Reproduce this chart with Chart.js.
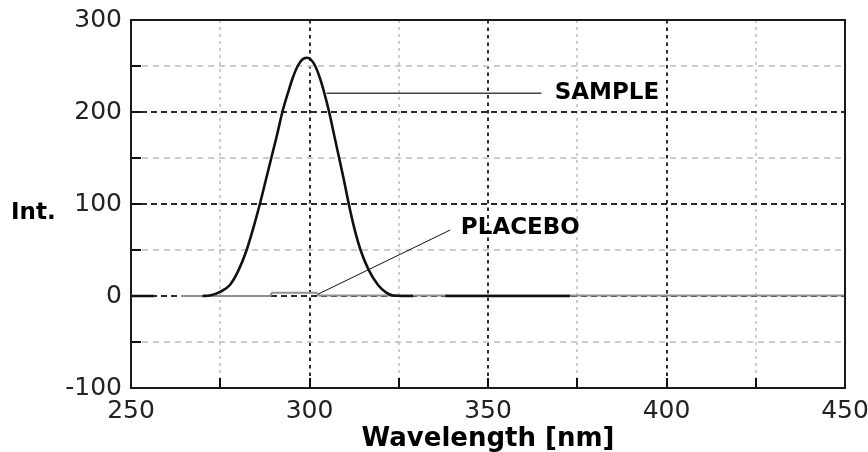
<!DOCTYPE html>
<html>
<head>
<meta charset="utf-8">
<script src="https://cdn.jsdelivr.net/npm/chart.js@4/dist/chart.umd.min.js"></script>
<style>
  html, body { margin: 0; padding: 0; background: #ffffff; }
  #wrap { width: 868px; height: 452px; }
</style>
</head>
<body>
<div id="wrap"><canvas id="c" width="868" height="452"></canvas></div>
<script>
// ---- data ----
const sampleWavelengths = [250, 256.5, 264, 270, 272, 275, 277.7, 280, 282.4, 284.2, 286.1, 287.7, 289.3, 290.9, 292.4, 293.9, 295.3, 296.7, 298, 299.2, 300.4, 301.6, 302.9, 304.2, 305.5, 306.9, 308.3, 309.7, 311, 312.6, 314.3, 316.5, 319.2, 321.4, 323.4, 326, 329, 333, 338, 373];
const sampleValues      = [0,   0,     null, 0,   0.5, 4.5, 12,    27,  50,    73,    100,   125,   150,   175,   200,   220,   237,   250,   257, 259,   257,   250,   237,   220,   200,   175,   150,   125,   100, 73,    50,    29,    12,    4,     0.5,   0,   0,   null, 0,   0];

const placeboWavelengths = [264, 289, 289.5, 302, 302.5, 450];
const placeboValues      = [0,   0,   3.5,   3.5, 0.5,   0.5];

const xTickValues = [250, 300, 350, 400, 450];
const yTickValues = [-100, 0, 100, 200, 300];

const xTitle = 'Wavelength [nm]';
const yTitle = 'Int.';
const seriesNames = ['SAMPLE', 'PLACEBO'];

// annotation anchors in data units
const labelAnchors = [
  { text: 'SAMPLE',  lineFrom: [304.8, 220.3], lineTo: [365, 220.3], textAt: [368.7, 220.5], color: '#444444', width: 1.6 },
  { text: 'PLACEBO', lineFrom: [302.4, 2.0],   lineTo: [339.4, 71.7], textAt: [342.4, 73.5], color: '#111111', width: 1 }
];

function toPoints(xs, ys) { return xs.map((x, i) => ({ x: x, y: ys[i] })); }

const decorPlugin = {
  id: 'decor',
  afterDatasetsDraw(chart) {
    const { ctx, chartArea: a, scales: { x, y } } = chart;
    ctx.save();
    // inner tick marks
    ctx.strokeStyle = '#111111';
    ctx.lineWidth = 2;
    ctx.setLineDash([]);
    x.ticks.forEach(t => {
      const px = Math.round(x.getPixelForValue(t.value));
      ctx.beginPath(); ctx.moveTo(px, a.bottom); ctx.lineTo(px, a.bottom - 10); ctx.stroke();
    });
    y.ticks.forEach(t => {
      const py = Math.round(y.getPixelForValue(t.value));
      ctx.beginPath(); ctx.moveTo(a.left, py); ctx.lineTo(a.left + 10, py); ctx.stroke();
    });
    // frame
    ctx.strokeStyle = '#1a1a1a';
    ctx.lineWidth = 2;
    ctx.strokeRect(a.left, a.top, a.right - a.left, a.bottom - a.top);
    // annotations
    labelAnchors.forEach(an => {
      ctx.strokeStyle = an.color;
      ctx.lineWidth = an.width;
      ctx.beginPath();
      ctx.moveTo(x.getPixelForValue(an.lineFrom[0]), y.getPixelForValue(an.lineFrom[1]));
      ctx.lineTo(x.getPixelForValue(an.lineTo[0]), y.getPixelForValue(an.lineTo[1]));
      ctx.stroke();
      ctx.fillStyle = '#000000';
      ctx.font = 'bold 23px "DejaVu Sans"';
      ctx.textAlign = 'left';
      ctx.textBaseline = 'middle';
      ctx.fillText(an.text, x.getPixelForValue(an.textAt[0]), y.getPixelForValue(an.textAt[1]));
    });
    // y title (horizontal)
    ctx.fillStyle = '#000000';
    ctx.font = 'bold 23px "DejaVu Sans"';
    ctx.textAlign = 'left';
    ctx.textBaseline = 'middle';
    ctx.fillText(yTitle, 11, 213);
    ctx.restore();
  }
};

new Chart(document.getElementById('c'), {
  type: 'line',
  data: {
    datasets: [
      {
        label: seriesNames[0],
        data: toPoints(sampleWavelengths, sampleValues),
        borderColor: '#111111',
        borderWidth: 2.6,
        pointRadius: 0,
        cubicInterpolationMode: 'monotone',
        spanGaps: false,
        fill: false,
        order: 0
      },
      {
        label: seriesNames[1],
        data: toPoints(placeboWavelengths, placeboValues),
        borderColor: '#909090',
        borderWidth: 2,
        pointRadius: 0,
        tension: 0,
        fill: false,
        order: 1
      }
    ]
  },
  options: {
    responsive: false,
    devicePixelRatio: 1,
    animation: false,
    layout: { padding: { top: 20, right: 23, left: 0, bottom: 0 } },
    plugins: { legend: { display: false }, tooltip: { enabled: false }, title: { display: false } },
    scales: {
      x: {
        type: 'linear',
        min: 250, max: 450,
        afterFit(scale) { scale.height = 64; scale.paddingLeft = 0; scale.paddingRight = 0; },
        ticks: {
          stepSize: 25,
          autoSkip: false,
          maxRotation: 0,
          padding: 8,
          color: '#222222',
          font: { family: '"DejaVu Sans"', size: 25 },
          callback: v => xTickValues.includes(v) ? String(v) : ''
        },
        grid: {
          drawTicks: false,
          lineWidth: 2,
          color: ctx => (ctx.tick && ctx.tick.value % 50 === 0) ? '#2a2a2a' : '#cccccc'
        },
        border: {
          display: false,
          dash: ctx => (ctx.tick && ctx.tick.value % 50 === 0) ? [3.5, 4] : [3, 4]
        },
        title: {
          display: true,
          text: xTitle,
          color: '#000000',
          font: { family: '"DejaVu Sans"', size: 26, weight: 'bold', lineHeight: 1.0 },
          padding: { top: 0, bottom: 0 }
        }
      },
      y: {
        type: 'linear',
        min: -100, max: 300,
        afterFit(scale) { scale.width = 131; scale.paddingTop = 0; scale.paddingBottom = 0; },
        ticks: {
          stepSize: 50,
          autoSkip: false,
          padding: 9,
          color: '#222222',
          font: { family: '"DejaVu Sans"', size: 25 },
          callback: v => yTickValues.includes(v) ? String(v) : ''
        },
        grid: {
          drawTicks: false,
          lineWidth: 2,
          color: ctx => (ctx.tick && ctx.tick.value % 100 === 0) ? '#2a2a2a' : '#cccccc'
        },
        border: {
          display: false,
          dash: ctx => (ctx.tick && ctx.tick.value % 100 === 0) ? [6, 4] : [6, 5]
        }
      }
    }
  },
  plugins: [decorPlugin]
});
</script>
</body>
</html>
